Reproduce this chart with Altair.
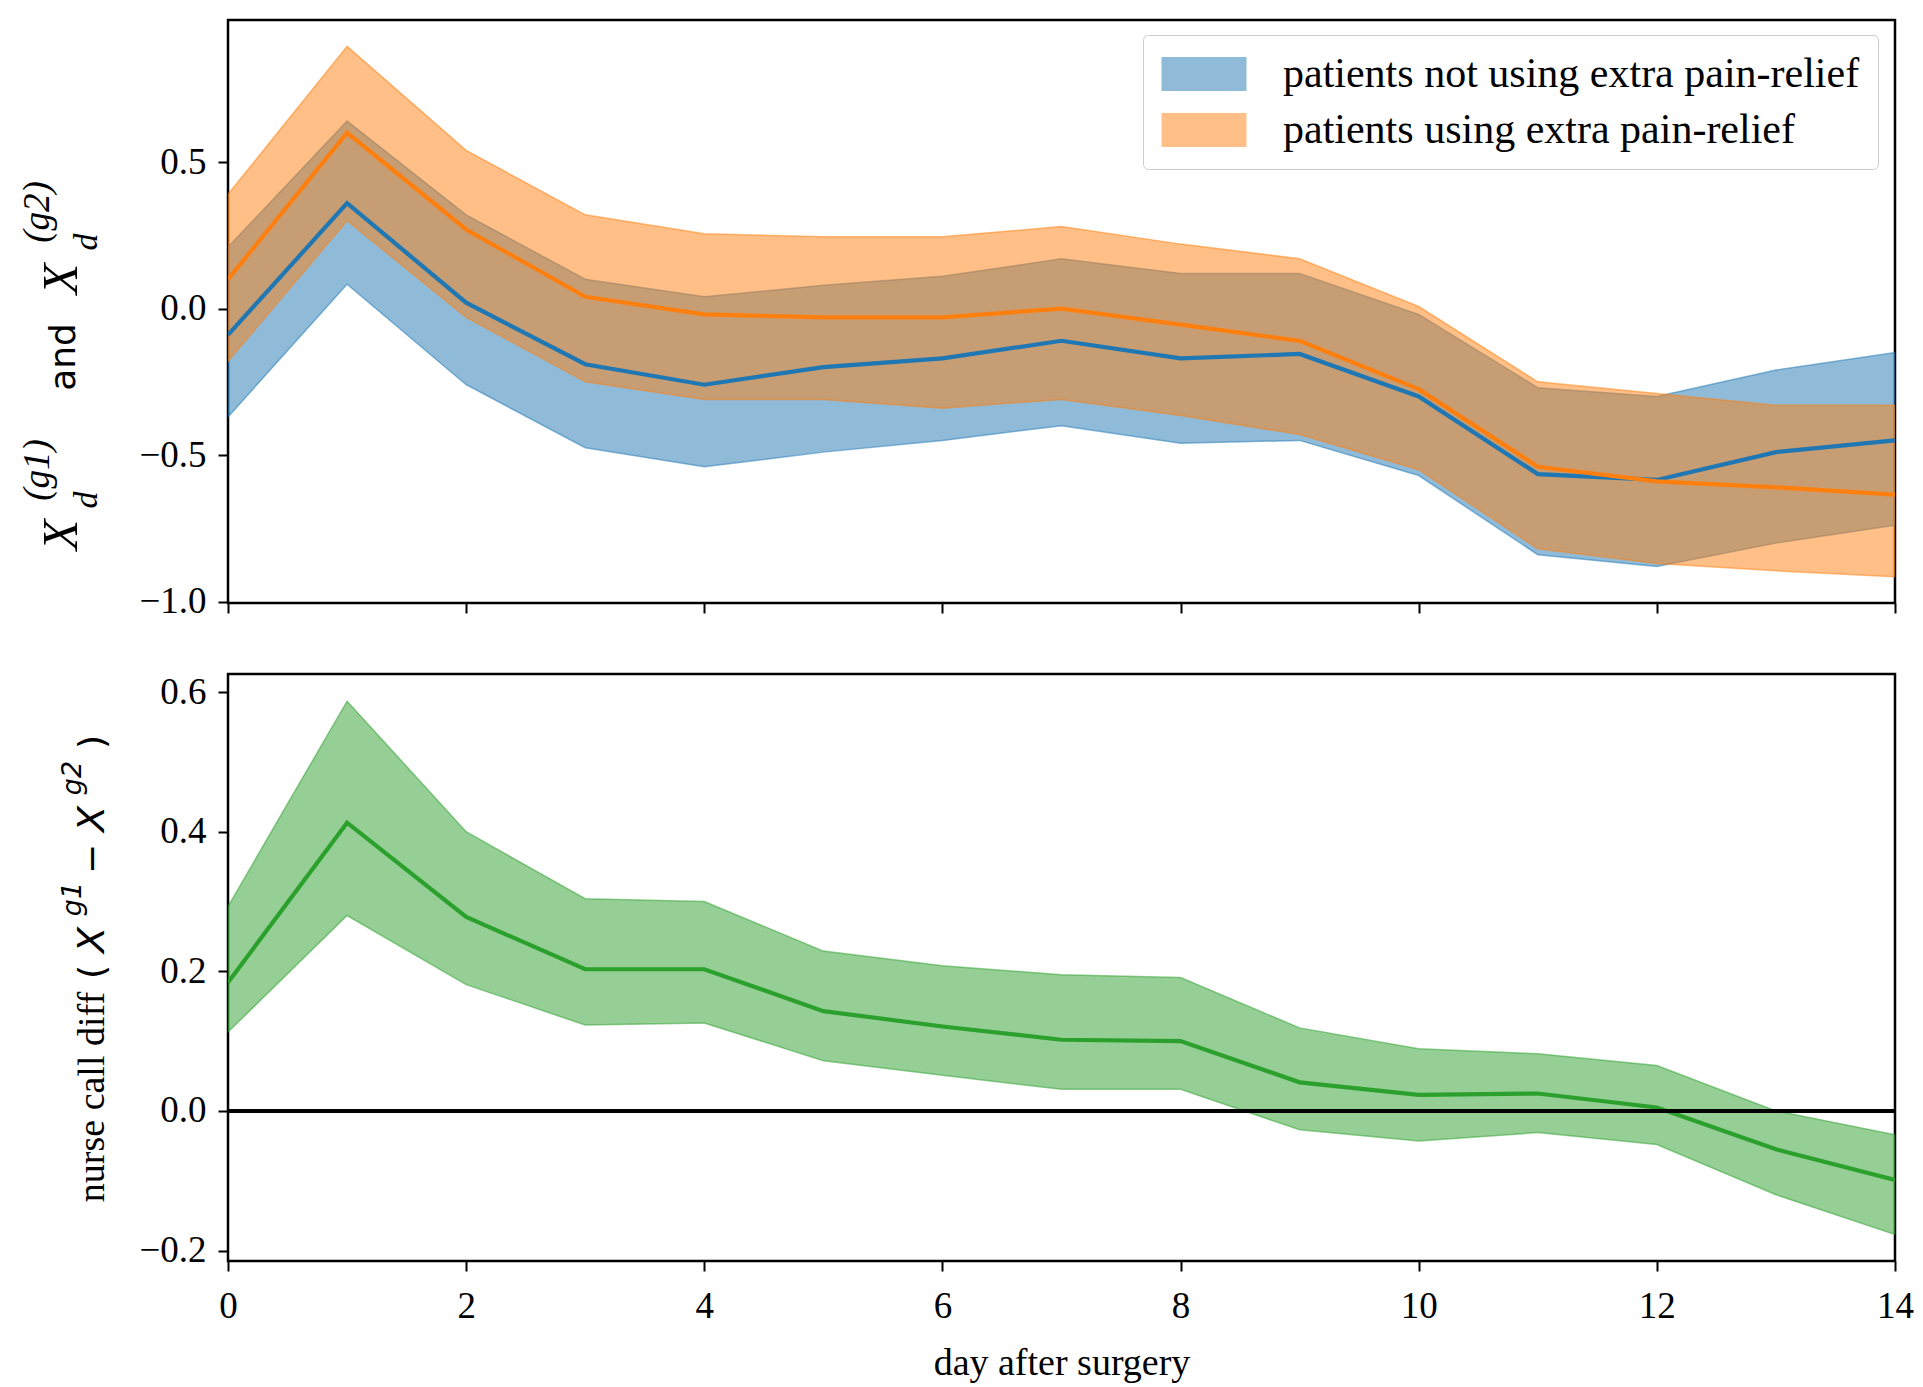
import altair as alt
import pandas as pd

days = list(range(15))

g1_name = "patients not using extra pain-relief"
g2_name = "patients using extra pain-relief"

g1_mean = [-0.09, 0.36, 0.02, -0.19, -0.26, -0.20, -0.17, -0.11, -0.17, -0.155, -0.30, -0.565, -0.585, -0.49, -0.45]
g1_upper = [0.21, 0.64, 0.32, 0.10, 0.04, 0.08, 0.11, 0.17, 0.12, 0.12, -0.02, -0.27, -0.30, -0.21, -0.15]
g1_lower = [-0.37, 0.083, -0.26, -0.475, -0.54, -0.49, -0.45, -0.40, -0.46, -0.45, -0.57, -0.84, -0.88, -0.80, -0.74]

g2_mean = [0.10, 0.60, 0.27, 0.04, -0.02, -0.03, -0.03, 0.0, -0.055, -0.11, -0.275, -0.54, -0.59, -0.61, -0.635]
g2_upper = [0.39, 0.895, 0.54, 0.32, 0.255, 0.245, 0.245, 0.28, 0.22, 0.17, 0.007, -0.25, -0.29, -0.33, -0.33]
g2_lower = [-0.18, 0.30, -0.03, -0.25, -0.31, -0.31, -0.34, -0.31, -0.365, -0.43, -0.55, -0.82, -0.87, -0.895, -0.915]

diff_mean = [0.184, 0.413, 0.278, 0.203, 0.203, 0.143, 0.121, 0.102, 0.100, 0.041, 0.023, 0.025, 0.005, -0.055, -0.099]
diff_upper = [0.293, 0.587, 0.40, 0.304, 0.30, 0.229, 0.208, 0.195, 0.191, 0.119, 0.089, 0.082, 0.065, 0.0, -0.034]
diff_lower = [0.113, 0.28, 0.181, 0.123, 0.126, 0.072, 0.051, 0.031, 0.031, -0.027, -0.043, -0.031, -0.048, -0.12, -0.177]

zero_line = [0.0]
x_ticks = [0, 2, 4, 6, 8, 10, 12, 14]
top_y_ticks = [-1.0, -0.5, 0.0, 0.5]
bot_y_ticks = [-0.2, 0.0, 0.2, 0.4, 0.6]

BLUE, ORANGE, GREEN = "#1f77b4", "#ff7f0e", "#2ca02c"
SERIF = "Liberation Serif"
SANS = "DejaVu Sans"

g1 = pd.DataFrame({"day": days, "mean": g1_mean, "lo": g1_lower, "hi": g1_upper, "group": g1_name})
g2 = pd.DataFrame({"day": days, "mean": g2_mean, "lo": g2_lower, "hi": g2_upper, "group": g2_name})
both = pd.concat([g1, g2], ignore_index=True)
diff = pd.DataFrame({"day": days, "mean": diff_mean, "lo": diff_lower, "hi": diff_upper})
zero_df = pd.DataFrame({"v": zero_line})
one = pd.DataFrame({"k": [0]})

W = 1667
H_TOP = 583
H_BOT = 587
LW = 4.2

x_top = alt.X("day:Q", scale=alt.Scale(domain=[0, 14], nice=False),
              axis=alt.Axis(values=x_ticks, labels=False, title=None, ticks=True))
x_bot = alt.X("day:Q", scale=alt.Scale(domain=[0, 14], nice=False),
              axis=alt.Axis(values=x_ticks, format="d", title="day after surgery", labelPadding=17,
                            titlePadding=20))

top_scale = alt.Scale(domain=[-1.005, 0.985], nice=False, zero=False)
bot_scale = alt.Scale(domain=[-0.215, 0.626], nice=False, zero=False)

color_scale = alt.Scale(domain=[g1_name, g2_name], range=[BLUE, ORANGE])


def piece(text, x, y, font, size, style="normal"):
    return alt.Chart(one).mark_text(
        text=text, angle=270, font=font, fontSize=size, fontStyle=style,
        align="center", baseline="middle", color="black"
    ).encode(x=alt.value(x), y=alt.value(y))


bands = alt.Chart(both).mark_area(fillOpacity=0.5, strokeOpacity=0.5, strokeWidth=1.5, clip=True).encode(
    x=x_top,
    y=alt.Y("lo:Q", scale=top_scale, axis=alt.Axis(values=top_y_ticks, format=".1f", title=None)),
    y2="hi:Q",
    fill=alt.Fill("group:N", scale=color_scale, legend=alt.Legend(
        title=None, orient="none", legendX=915, legendY=15,
        symbolType="M-2.5,-1L2.5,-1L2.5,1L-2.5,1Z", symbolSize=1156, symbolOffset=22,
        symbolOpacity=0.5, symbolStrokeWidth=0,
        labelFont=SERIF, labelFontSize=42, labelColor="black", labelOffset=58,
        labelLimit=1000, rowPadding=14, padding=18,
        strokeColor="#cccccc", fillColor="white", cornerRadius=5)),
    stroke=alt.Stroke("group:N", scale=color_scale, legend=None),
)

line1 = alt.Chart(g1).mark_line(color=BLUE, strokeWidth=LW, clip=True).encode(
    x=x_top, y=alt.Y("mean:Q", scale=top_scale))
line2 = alt.Chart(g2).mark_line(color=ORANGE, strokeWidth=LW, clip=True).encode(
    x=x_top, y=alt.Y("mean:Q", scale=top_scale))

top_label = [
    piece("X", -166, 515, SERIF, 50, "italic"),
    piece("d", -141, 480, SERIF, 34, "italic"),
    piece("(g1)", -190, 450, SERIF, 37, "italic"),
    piece("and", -164, 337, SANS, 36),
    piece("X", -166, 259, SERIF, 50, "italic"),
    piece("d", -141, 222, SERIF, 34, "italic"),
    piece("(g2)", -190, 192, SERIF, 37, "italic"),
]

top = alt.layer(bands, line1, line2, *top_label).properties(width=W, height=H_TOP)

diff_band = alt.Chart(diff).mark_area(color=GREEN, fillOpacity=0.5, stroke=GREEN, strokeOpacity=0.5,
                                      strokeWidth=1.5, clip=True).encode(
    x=x_bot,
    y=alt.Y("lo:Q", scale=bot_scale, axis=alt.Axis(values=bot_y_ticks, format=".1f", title=None)),
    y2="hi:Q",
)
diff_line = alt.Chart(diff).mark_line(color=GREEN, strokeWidth=LW, clip=True).encode(
    x=x_bot, y=alt.Y("mean:Q", scale=bot_scale))
zero = alt.Chart(zero_df).mark_rule(color="black", strokeWidth=4).encode(
    y=alt.Y("v:Q", scale=bot_scale))

bot_label = [
    piece("nurse call diff", -135, 423, SERIF, 38),
    piece("(", -135, 298, SANS, 36),
    piece("X", -135, 266, SANS, 38, "italic"),
    piece("g1", -155, 225, SANS, 27, "italic"),
    piece("\u2212", -135, 185, SANS, 36),
    piece("X", -135, 145, SANS, 38, "italic"),
    piece("g2", -155, 104, SANS, 27, "italic"),
    piece(")", -135, 68, SANS, 36),
]

bottom = alt.layer(diff_band, diff_line, zero, *bot_label).properties(width=W, height=H_BOT)

chart = alt.vconcat(top, bottom, spacing=50).properties(
    padding={"left": 9, "top": 10, "right": 0, "bottom": 5}
).configure_view(
    stroke="black", strokeWidth=2.5
).configure_axis(
    grid=False, domain=False, tickColor="black", tickWidth=2, tickSize=10,
    labelFont=SERIF, labelFontSize=37, labelColor="black", labelPadding=12, labelFlush=False,
    titleFont=SERIF, titleFontSize=38, titleFontWeight="normal", titleColor="black", titlePadding=14,
)

chart.save("out.html", embed_options={"renderer": "svg", "actions": False})
